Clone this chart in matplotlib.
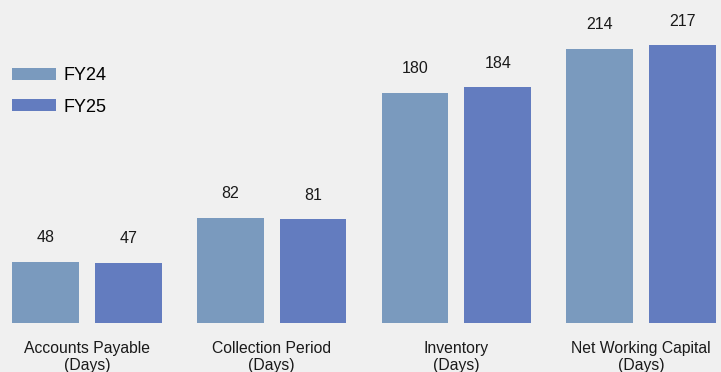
import numpy as np
import matplotlib
matplotlib.use('Agg')
import matplotlib.pyplot as plt

# Dias de capital de trabajo por componente
categorias = ['Accounts Payable\n(Days)', 'Collection Period\n(Days)',
              'Inventory\n(Days)', 'Net Working Capital\n(Days)']
fy24 = [48, 82, 180, 214]
fy25 = [47, 81, 184, 217]

plt.rcParams['font.family'] = ['Liberation Sans', 'DejaVu Sans']

fondo = '#f0f0f0'
c24 = '#7a9abe'
c25 = '#637cbf'

fig = plt.figure(figsize=(7.21, 3.72), dpi=100, facecolor=fondo)
ax = fig.add_axes([0, 49/372, 1, 323/372])
ax.set_facecolor(fondo)

x = np.arange(len(categorias))
ancho = 0.362
desp = 0.224
b1 = ax.bar(x - desp, fy24, ancho, color=c24, label='FY24')
b2 = ax.bar(x + desp, fy25, ancho, color=c25, label='FY25')

for barras in (b1, b2):
    ax.bar_label(barras, padding=12, fontsize=11.5, color='#1a1a1a')

ax.set_xlim(-0.471, 3.433)
ax.set_ylim(0, 252.3)
for s in ax.spines.values():
    s.set_visible(False)
ax.set_yticks([])
ax.set_xticks(x)
ax.set_xticklabels(categorias, fontsize=11.3, color='#1a1a1a', linespacing=1.15)
ax.tick_params(axis='x', length=0, pad=13)

ax.legend(loc='upper left', bbox_to_anchor=(0.006, 0.814), frameon=False,
          fontsize=13, handlelength=2.44, handleheight=0.66,
          handletextpad=0.45, labelspacing=0.8, borderaxespad=0)

fig.savefig('out.png', dpi=100, facecolor=fondo)
